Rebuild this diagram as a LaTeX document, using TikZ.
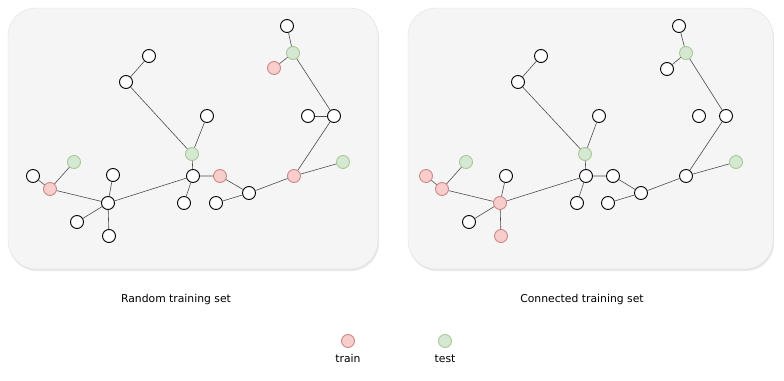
\documentclass[tikz,border=0pt]{standalone}
\usepackage{fontspec}
\setmainfont{DejaVu Sans}
\usetikzlibrary{shadows}
\definecolor{panelgray}{HTML}{F5F5F5}
\definecolor{trainfill}{HTML}{F8CECC}
\definecolor{trainline}{HTML}{B85450}
\definecolor{testfill}{HTML}{D5E8D4}
\definecolor{testline}{HTML}{82B366}
\begin{document}
\begin{tikzpicture}[x=1pt, y=-1pt,
  vtx/.style={draw, circle, fill=white, minimum size=13pt, inner sep=0pt, line width=0.9pt},
  trainv/.style={vtx, draw=trainline!70, fill=trainfill},
  testv/.style={vtx, draw=testline!70, fill=testfill},
  edge/.style={draw=black!70, line width=0.6pt},
  panel/.style={fill=panelgray, draw=black!12, rounded corners=28pt,
    drop shadow={shadow xshift=1pt, shadow yshift=-2pt, opacity=0.18}},
  caption/.style={font=\fontsize{10.8}{13}\selectfont}]
\useasboundingbox (0,0) rectangle (784,380);
\fill[white] (0,0) rectangle (784,380);
% panels
\path[panel] (8,8) rectangle (378,269);
\path[panel] (408,8) rectangle (773,269);
% random training set
\node[vtx] (la1) at (287,26) {};
\node[testv] (la2) at (293,53) {};
\node[trainv] (la3) at (274,68) {};
\node[vtx] (lb1) at (149,56) {};
\node[vtx] (lb2) at (126,82) {};
\node[vtx] (lc1) at (207,116) {};
\node[testv] (lc2) at (192,154) {};
\node[vtx] (lc3) at (193,176) {};
\node[vtx] (ld1) at (308,116) {};
\node[vtx] (ld2) at (334,116) {};
\node[trainv] (le1) at (294,176) {};
\node[testv] (le2) at (343,162) {};
\node[trainv] (lf) at (220,176) {};
\node[vtx] (lg) at (249,193) {};
\node[vtx] (lh) at (216,203) {};
\node[vtx] (li) at (184,203) {};
\node[testv] (lj) at (74,162) {};
\node[vtx] (lk) at (33,176) {};
\node[trainv] (ll) at (50,189) {};
\node[vtx] (lm) at (113,175) {};
\node[vtx] (ln) at (108,203) {};
\node[vtx] (lo) at (77,222) {};
\node[vtx] (lp) at (109,236) {};
\draw[edge] (la1) -- (la2) -- (ld2) -- (le1) -- (le2);
\draw[edge] (la3) -- (la2);
\draw[edge] (ld1) -- (ld2);
\draw[edge] (lb1) -- (lb2) -- (lc2) -- (lc1);
\draw[edge] (lc2) -- (lc3) -- (lf) -- (lg) -- (le1);
\draw[edge] (lg) -- (lh);
\draw[edge] (lc3) -- (li);
\draw[edge] (lc3) -- (ln) -- (ll) -- (lk);
\draw[edge] (ll) -- (lj);
\draw[edge] (ln) -- (lm);
\draw[edge] (ln) -- (lo);
\draw[edge] (ln) -- (lp);
% connected training set
\node[vtx] (ra1) at (679,26) {};
\node[testv] (ra2) at (686,53) {};
\node[vtx] (ra3) at (667,69) {};
\node[vtx] (rb1) at (541,56) {};
\node[vtx] (rb2) at (518,82) {};
\node[vtx] (rc1) at (599,116) {};
\node[testv] (rc2) at (585,154) {};
\node[vtx] (rc3) at (586,176) {};
\node[vtx] (rd1) at (699,116) {};
\node[vtx] (rd2) at (726,116) {};
\node[vtx] (re1) at (686,176) {};
\node[testv] (re2) at (736,162) {};
\node[vtx] (rf) at (613,176) {};
\node[vtx] (rg) at (641,193) {};
\node[vtx] (rh) at (608,203) {};
\node[vtx] (ri) at (577,203) {};
\node[testv] (rj) at (466,162) {};
\node[trainv] (rk) at (426,176) {};
\node[trainv] (rl) at (442,189) {};
\node[vtx] (rm) at (506,176) {};
\node[trainv] (rn) at (500,203) {};
\node[vtx] (ro) at (469,222) {};
\node[trainv] (rp) at (501,236) {};
\draw[edge] (ra1) -- (ra2) -- (rd2) -- (re1) -- (re2);
\draw[edge] (ra3) -- (ra2);
\draw[edge] (rb1) -- (rb2) -- (rc2) -- (rc1);
\draw[edge] (rc2) -- (rc3) -- (rf) -- (rg) -- (re1);
\draw[edge] (rg) -- (rh);
\draw[edge] (rc3) -- (ri);
\draw[edge] (rc3) -- (rn) -- (rl) -- (rk);
\draw[edge] (rl) -- (rj);
\draw[edge] (rn) -- (rm);
\draw[edge] (rn) -- (ro);
\draw[edge] (rn) -- (rp);
% captions and legend
\node[caption] (lcap) at (176,300) {Random training set};
\node[caption] (rcap) at (582,300) {Connected training set};
\node[trainv] (ktrain) at (348,341) {};
\node[testv] (ktest) at (445,341) {};
\node[caption, below=3pt] (ktrainl) at (ktrain.south) {train};
\node[caption, below=3pt] (ktestl) at (ktest.south) {test};
\end{tikzpicture}
\end{document}
